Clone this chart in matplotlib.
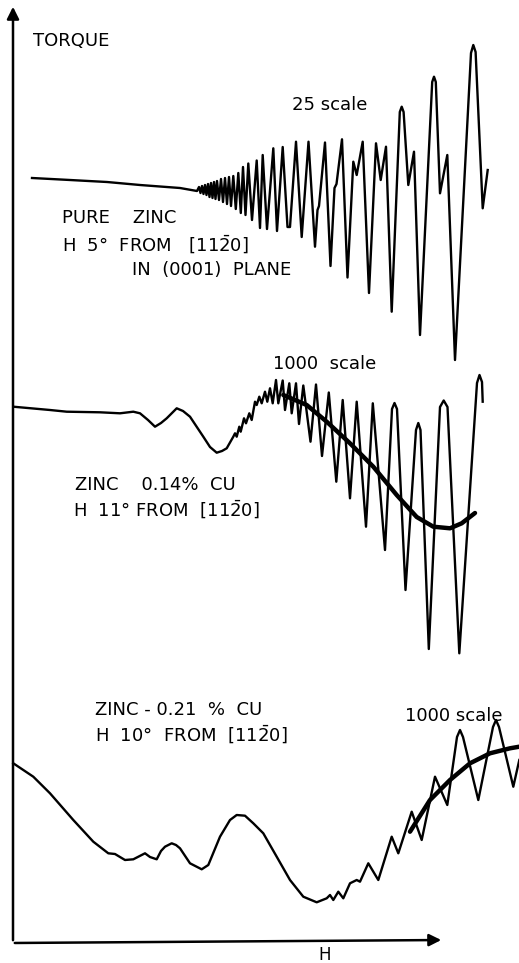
import matplotlib
matplotlib.use("Agg")
import matplotlib.pyplot as plt

# coordinates: H to the right, torque downward (page units)

# pure zinc, 25 scale
zinc_h = [32, 70, 107, 140, 180, 197,
          199, 200.5, 202, 203.5, 205, 206.5, 208, 209.5, 211, 212.5, 214, 215.5,
          217, 219, 221, 223, 225, 227, 229, 231, 233.3, 235.8, 238.3, 240.8,
          243, 245.5, 248.3, 252, 256.7, 260, 262.7, 267, 273.3, 277, 282.7,
          287.5, 290, 296, 301.7, 308.5, 315, 317.5, 319, 325, 330.5, 334.5,
          336.5, 342, 347.5, 353.3, 356.7, 362.7, 369, 376, 380.7, 386, 391.7,
          399.8, 401.7, 403.6, 408.3, 414, 420, 432.2, 434, 435.8, 440, 447.3,
          455, 471, 473.3, 475.6, 482.7, 487.7]
zinc_t = [178, 180, 182, 185, 188, 191,
          187, 193, 186, 194, 185, 195, 184, 197, 183, 198, 182, 199,
          181, 200, 179, 202, 178, 204, 177, 206, 176, 209, 173, 213,
          167, 215, 163.5, 220, 160.5, 228, 155, 229, 148.3, 231, 147,
          227, 227, 141.7, 237, 141.7, 246.7, 210, 206, 142.5, 266, 188,
          184, 139.3, 277.5, 161.7, 175, 141.7, 293, 143.3, 180, 146.7, 311.7,
          112, 106.7, 112, 185, 151.7, 335, 82, 76.7, 82, 193.3, 155,
          360, 53, 45, 52, 208.3, 170]

# zinc 0.14 % Cu, 1000 scale
cu14_h = [13.3, 50, 66.7, 100, 120, 133.3, 140, 148, 155, 161, 166.7, 176.7,
          183, 190, 203.3, 210, 216.7, 222, 226.7, 233.3, 235, 236.7, 239.3,
          240.7, 244, 246, 249.3, 251.7, 255, 256.7, 259.3, 261.7, 265, 267.3,
          270, 272.7, 276, 278.3, 282.7, 285, 289.3, 291.7, 296, 299, 303.3,
          310.5, 316, 322, 328.8, 336.3, 342.7, 350, 356.7, 366, 372.8, 385,
          392, 394.5, 397, 405.5, 416, 418.3, 420.5, 428.8, 440, 443.7, 447.5,
          459.3, 477, 479.5, 482, 482.7]
cu14_t = [406.7, 410, 411.7, 412.3, 413.3, 411.7, 413.3, 420, 426.7, 423, 418.3, 408.3,
          411, 416.7, 436.7, 447, 452.7, 451, 448.3, 436.7, 433.3, 436.7, 426.7,
          431.7, 418.3, 423.3, 413.3, 420, 401.7, 405, 396.7, 403.3, 391.7, 401.7,
          388.3, 403.3, 380, 403.3, 380.5, 410, 383.3, 413.3, 383.3, 424, 385.5,
          441.7, 384.5, 456, 392.5, 481.7, 400, 498.3, 401.7, 526.7, 403.3, 550,
          409, 403, 409, 590, 430, 423, 430, 649, 407, 400.5, 407,
          653.3, 383, 375, 382, 401.7]
cu14_mean_h = [283.3, 306.7, 326.7, 350, 373.3, 396.7, 416.7, 433.3, 450, 461.7, 475]
cu14_mean_t = [395, 405, 421.7, 443.3, 466.7, 495, 517, 526.7, 528.3, 523.3, 513]

# zinc 0.21 % Cu
cu21_h = [13.3, 33.3, 50, 73.3, 93.3, 108.3, 115, 125, 133.3, 145, 150, 156.7,
          161, 165, 171.7, 176, 180, 190, 201.7, 208.3, 220, 230, 236.7, 245,
          253.3, 263.3, 276.7, 290, 303.3, 316.7, 326.7, 330, 333.3, 338.3,
          343.3, 350, 356.7, 360, 368.3, 378.3, 391.7, 398.3, 411.7, 421.7,
          435, 447.3, 457, 460, 463, 478.3, 493, 496, 499, 513.3, 519.3]
cu21_t = [763.3, 776.7, 793.3, 820, 841.7, 853.3, 854, 860, 859.3, 853.3, 857, 859.3,
          851, 846.7, 843.3, 845, 848.3, 863.3, 869.3, 865, 836.7, 820, 815, 815.7,
          823.3, 833.3, 856.7, 880, 896.7, 902.3, 898.3, 895, 900, 891.7,
          898.3, 883.3, 880, 881.7, 863.3, 880, 836.7, 853.3, 811.7, 840,
          776.7, 805, 737, 730, 737, 800, 727, 720, 727, 786.7, 760]
cu21_mean_h = [410, 430, 450, 470, 490, 510, 519.3]
cu21_mean_t = [831.7, 800, 780, 763.3, 753.3, 748.3, 746.7]

direction = r"[11$\bar{2}$0]"
labels = [
    (33, 41, "TORQUE"),
    (292, 105, "25 scale"),
    (62, 218, "PURE    ZINC"),
    (62, 245, "H  5°  FROM   " + direction),
    (132, 270, "IN  (0001)  PLANE"),
    (273, 364, "1000  scale"),
    (75, 485, "ZINC    0.14%  CU"),
    (73, 510, "H  11° FROM  " + direction),
    (95, 710, "ZINC - 0.21  %  CU"),
    (95, 735, "H  10°  FROM  " + direction),
    (405, 716, "1000 scale"),
]

fig = plt.figure(figsize=(5.19, 9.63), dpi=100)
ax = fig.add_axes([0, 0, 1, 1])
ax.set_xlim(0, 519)
ax.set_ylim(963, 0)
ax.axis("off")

ax.plot(zinc_h, zinc_t, color="black", lw=1.7, solid_joinstyle="round")
ax.plot(cu14_h, cu14_t, color="black", lw=1.7, solid_joinstyle="round")
ax.plot(cu14_mean_h, cu14_mean_t, color="black", lw=3.2, solid_capstyle="round")
ax.plot(cu21_h, cu21_t, color="black", lw=1.7, solid_joinstyle="round")
ax.plot(cu21_mean_h, cu21_mean_t, color="black", lw=3.2, solid_capstyle="round")

# torque and field axes
ax.annotate("", xy=(13, 4), xytext=(13, 943),
            arrowprops=dict(arrowstyle="-|>", lw=1.8, color="black", mutation_scale=18))
ax.annotate("", xy=(444, 940), xytext=(12, 943),
            arrowprops=dict(arrowstyle="-|>", lw=1.8, color="black", mutation_scale=18))
ax.text(325, 955, "H", ha="center", va="center", fontsize=12)

for x, y, s in labels:
    ax.text(x, y, s, ha="left", va="center", fontsize=13)

fig.savefig("out.png", dpi=100)
